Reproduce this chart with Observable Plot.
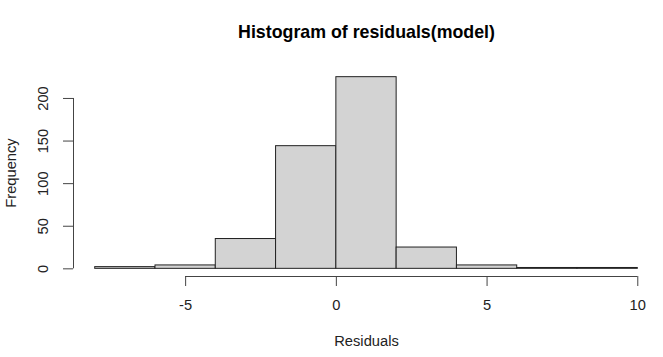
<!DOCTYPE html>
<html>
<head>
<meta charset="utf-8">
<script src="https://cdn.jsdelivr.net/npm/d3@7"></script>
<script src="https://cdn.jsdelivr.net/npm/@observablehq/plot@0.6"></script>
<style>
  html, body { margin: 0; padding: 0; background: white; }
  svg { display: block; }
</style>
</head>
<body>
<div id="chart"></div>
<script>
// Histogram bin edges and counts
const binStarts = [-8, -6, -4, -2, 0, 2, 4, 6, 8];
const binWidth = 2;
const counts = [2, 4, 35, 144, 225, 25, 4, 1, 1];
const xTicks = [-5, 0, 5, 10];
const yTicks = [0, 50, 100, 150, 200];
const titleText = "Histogram of residuals(model)";
const xLabel = "Residuals";
const yLabel = "Frequency";

const bins = binStarts.map((s, i) => ({x1: s, x2: s + binWidth, count: counts[i]}));

// R-style 4% extension of the data ranges
const xMin = binStarts[0], xMax = binStarts[binStarts.length - 1] + binWidth;
const xPad = 0.04 * (xMax - xMin);
const yMax = d3.max(counts);
const yPad = 0.04 * yMax;
const xLo = xMin - xPad, xHi = xMax + xPad;
const yLo = -yPad, yHi = yMax + yPad;

const font = "'Liberation Sans', Arial, sans-serif";
const axisColor = "#444";
const fs = 14.7;

const chart = Plot.plot({
  width: 663,
  height: 357,
  marginLeft: 73,
  marginRight: 4,
  marginTop: 69,
  marginBottom: 81,
  style: {fontFamily: font, fontSize: fs + "px", color: "#222", background: "white"},
  x: {domain: [xLo, xHi], axis: null},
  y: {domain: [yLo, yHi], axis: null},
  marks: [
    Plot.rect(bins, {x1: "x1", x2: "x2", y1: 0, y2: "count", fill: "#d3d3d3", stroke: "#222", strokeWidth: 1}),
    // x axis line and ticks
    Plot.ruleY([yLo], {x1: xTicks[0], x2: xTicks[xTicks.length - 1], stroke: axisColor}),
    Plot.axisX({ticks: xTicks, tickSize: 10, tickFormat: () => "", stroke: axisColor, label: null}),
    Plot.text(xTicks, {x: d => d, text: d => String(d), frameAnchor: "bottom", lineAnchor: "middle", dy: 29, fontSize: fs, fill: "#222"}),
    // y axis line and ticks
    Plot.ruleX([xLo], {y1: yTicks[0], y2: yTicks[yTicks.length - 1], stroke: axisColor}),
    Plot.axisY({ticks: yTicks, tickSize: 10, tickFormat: () => "", stroke: axisColor, label: null}),
    Plot.text(yTicks, {y: d => d, text: d => String(d), frameAnchor: "left", textAnchor: "middle", lineAnchor: "middle", dx: -30, rotate: -90, fontSize: fs, fill: "#222"}),
    // titles
    Plot.text([titleText], {text: d => d, frameAnchor: "top", lineAnchor: "middle", dy: -37, fontSize: 17.8, fontWeight: "bold", fill: "black"}),
    Plot.text([xLabel], {text: d => d, frameAnchor: "bottom", lineAnchor: "middle", dy: 65, fontSize: fs, fill: "#222"}),
    Plot.text([yLabel], {text: d => d, frameAnchor: "left", textAnchor: "middle", lineAnchor: "middle", dx: -62, rotate: -90, fontSize: fs, fill: "#222"})
  ]
});
document.getElementById("chart").appendChild(chart);
</script>
</body>
</html>
